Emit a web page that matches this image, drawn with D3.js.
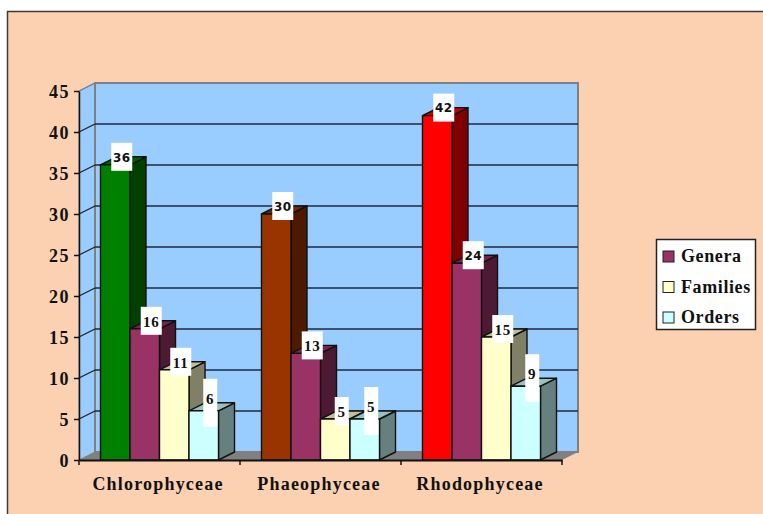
<!DOCTYPE html>
<html>
<head>
<meta charset="utf-8">
<script src="https://cdnjs.cloudflare.com/ajax/libs/d3/7.8.5/d3.min.js"></script>
<style>
  html, body { margin: 0; padding: 0; background: #fff; }
  svg { display: block; }
  text { font-family: "Liberation Serif", serif; font-weight: bold; fill: #111; }
</style>
</head>
<body>
<div id="chart"></div>
<script>
var categories = ["Chlorophyceae", "Phaeophyceae", "Rhodophyceae"];
var classValues = [36, 30, 42];
var classColors = ["#008000", "#993300", "#ff0000"];
var seriesNames = ["Genera", "Families", "Orders"];
var genera = [16, 13, 24];
var families = [11, 5, 15];
var orders = [6, 5, 9];
var seriesColors = ["#993366", "#ffffcc", "#ccffff"];
var yTicks = [0, 5, 10, 15, 20, 25, 30, 35, 40, 45];

var width = 763, height = 514;
var depthX = 16, depthY = 8;
var left = 79, right = 562, bottom = 460, top_ = 91;

var svg = d3.select("#chart").append("svg")
    .attr("width", width)
    .attr("height", height);

// peach panel, runs off the right and bottom of the picture
svg.append("rect")
    .attr("x", 7.5).attr("y", 11.5)
    .attr("width", width).attr("height", height)
    .attr("fill", "#fbd1b1")
    .attr("stroke", "#403a36")
    .attr("stroke-width", 1.5);

var x0 = d3.scaleBand().domain(categories).range([left, right]);
var x1 = d3.scaleBand().domain([0, 1, 2, 3]).range([21.5, 139.5]);
var y = d3.scaleLinear().domain([0, 45]).range([bottom, top_]);

function shade(c, k) {
    var r = d3.rgb(c);
    return d3.rgb(r.r * k, r.g * k, r.b * k).formatHex();
}

// walls
var wall = svg.append("g");
wall.append("polygon")
    .attr("points", [[left, top_], [left + depthX, top_ - depthY], [left + depthX, bottom - depthY], [left, bottom]].join(" "))
    .attr("fill", "#99ccff")
    .attr("stroke", "#808080");
wall.append("rect")
    .attr("x", left + depthX).attr("y", top_ - depthY)
    .attr("width", right - left).attr("height", bottom - top_)
    .attr("fill", "#99ccff")
    .attr("stroke", "#808080")
    .attr("stroke-width", 2);
wall.append("polygon")
    .attr("points", [[left, bottom], [right, bottom], [right + depthX, bottom - depthY], [left + depthX, bottom - depthY]].join(" "))
    .attr("fill", "#808080");

// gridlines on back and side wall
var grid = svg.append("g");
grid.selectAll("line.back")
    .data(yTicks.slice(1, -1))
    .enter().append("line")
    .attr("class", "back")
    .attr("x1", left + depthX).attr("x2", right + depthX)
    .attr("y1", function (d) { return y(d) - depthY; })
    .attr("y2", function (d) { return y(d) - depthY; })
    .attr("stroke", "#1b2a3c")
    .attr("stroke-width", 1.6);
grid.selectAll("line.side")
    .data(yTicks.slice(1))
    .enter().append("line")
    .attr("class", "side")
    .attr("x1", left).attr("x2", left + depthX)
    .attr("y1", function (d) { return y(d); })
    .attr("y2", function (d) { return y(d) - depthY; })
    .attr("stroke", function (d) { return d == 45 ? "#808080" : "#222"; })
    .attr("stroke-width", 1.3);

// Y axis
var yAxis = svg.append("g")
    .attr("transform", "translate(" + left + ",0)")
    .call(d3.axisLeft(y).tickValues(yTicks).tickSize(5).tickPadding(4).tickSizeOuter(0));
yAxis.selectAll("text").style("font-size", "18px").style("letter-spacing", "1.5px").attr("dy", "0.38em");
yAxis.selectAll("line, path").attr("stroke", "#111").attr("stroke-width", 1.5);

// bars, left to right so each one covers the side of the last
var rows = [];
categories.forEach(function (c, i) {
    rows.push({cat: c, slot: 0, value: classValues[i], color: classColors[i]});
    rows.push({cat: c, slot: 1, value: genera[i], color: seriesColors[0]});
    rows.push({cat: c, slot: 2, value: families[i], color: seriesColors[1]});
    rows.push({cat: c, slot: 3, value: orders[i], color: seriesColors[2]});
});

function barX(d) { return x0(d.cat) + x1(d.slot); }

var bars = svg.append("g").selectAll("g")
    .data(rows)
    .enter().append("g")
    .attr("stroke", "#111")
    .attr("stroke-width", 1.4)
    .attr("stroke-linejoin", "round");

bars.append("polygon")
    .attr("fill", function (d) { return shade(d.color, 0.5); })
    .attr("points", function (d) {
        var a = barX(d) + x1.bandwidth();
        return [[a, y(d.value)], [a + depthX, y(d.value) - depthY], [a + depthX, bottom - depthY], [a, bottom]].join(" ");
    });
bars.append("polygon")
    .attr("fill", function (d) { return shade(d.color, 0.75); })
    .attr("points", function (d) {
        var a = barX(d), w = x1.bandwidth();
        return [[a, y(d.value)], [a + depthX, y(d.value) - depthY], [a + w + depthX, y(d.value) - depthY], [a + w, y(d.value)]].join(" ");
    });
bars.append("rect")
    .attr("fill", function (d) { return d.color; })
    .attr("x", barX)
    .attr("y", function (d) { return y(d.value); })
    .attr("width", x1.bandwidth())
    .attr("height", function (d) { return bottom - y(d.value); });

// X axis
var xAxis = svg.append("g")
    .attr("transform", "translate(0," + bottom + ")")
    .call(d3.axisBottom(x0).tickSize(0).tickPadding(17));
xAxis.selectAll("text")
    .style("font-size", "18px")
    .style("letter-spacing", "1.2px")
    .attr("dx", "-1.5");
xAxis.select("path").attr("stroke", "#111").attr("stroke-width", 1.8);
xAxis.selectAll("line.cat")
    .data(categories.map(function (c) { return x0(c); }).concat([right]))
    .enter().append("line")
    .attr("class", "cat")
    .attr("x1", function (d) { return d; })
    .attr("x2", function (d) { return d; })
    .attr("y1", 0).attr("y2", 5)
    .attr("stroke", "#111")
    .attr("stroke-width", 1.5);

// value labels on white boxes: one digit is narrow, and the Orders boxes are tall
function isTall(d) { return d.slot == 3 && d.value < 10; }

var labels = svg.append("g").selectAll("g")
    .data(rows)
    .enter().append("g")
    .attr("transform", function (d) {
        return "translate(" + (barX(d) + x1.bandwidth() / 2 + 6.5) + "," + (y(d.value) - 8) + ")";
    });
labels.append("rect")
    .attr("x", function (d) { return d.value < 10 ? -7 : -10.5; })
    .attr("y", function (d) { return isTall(d) ? -24 : -14; })
    .attr("width", function (d) { return d.value < 10 ? 14 : 21; })
    .attr("height", function (d) { return isTall(d) ? 48 : 28; })
    .attr("fill", "#fff");
labels.append("text")
    .attr("text-anchor", "middle")
    .attr("y", function (d) { return isTall(d) ? -4 : 0.5; })
    .attr("dy", "0.35em")
    .style("font-family", function (d) { return d.value > 20 ? '"DejaVu Sans", sans-serif' : null; })
    .style("font-size", function (d) { return d.value > 20 ? "12px" : "15px"; })
    .style("letter-spacing", function (d) { return d.value > 20 ? "0.4px" : "0.8px"; })
    .text(function (d) { return d.value; });

// legend
var legend = svg.append("g");
legend.append("rect")
    .attr("x", 656.5).attr("y", 239.5)
    .attr("width", 99).attr("height", 90)
    .attr("fill", "#fff")
    .attr("stroke", "#222")
    .attr("stroke-width", 1.5);
var legendY = d3.scalePoint().domain(seriesNames).range([256.5, 317.5]);
var items = legend.selectAll("g")
    .data(seriesNames)
    .enter().append("g")
    .attr("transform", function (d) { return "translate(663," + legendY(d) + ")"; });
items.append("rect")
    .attr("x", 0).attr("y", -5.5)
    .attr("width", 11).attr("height", 11)
    .attr("fill", function (d, i) { return seriesColors[i]; })
    .attr("stroke", "#222");
items.append("text")
    .attr("x", 18)
    .attr("y", -0.5)
    .attr("dy", "0.35em")
    .style("font-size", "18px")
    .style("letter-spacing", "0.6px")
    .text(function (d) { return d; });
</script>
</body>
</html>
